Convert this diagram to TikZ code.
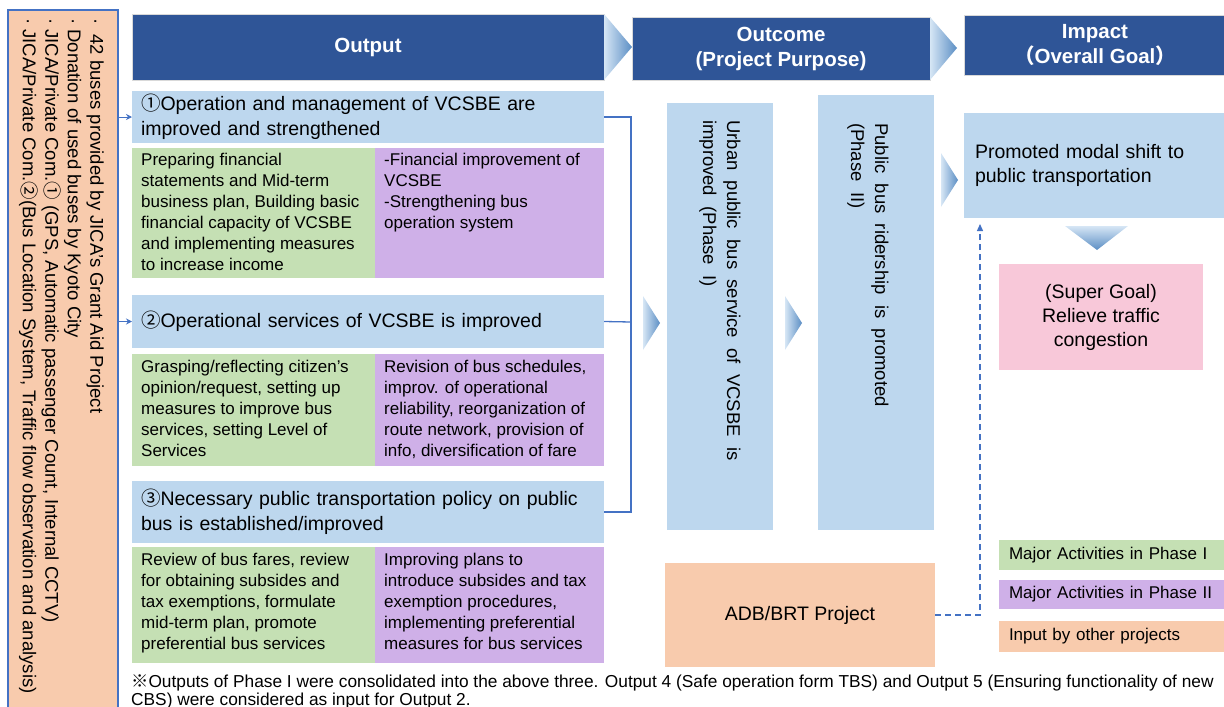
\documentclass[tikz,border=0pt]{standalone}
\usepackage{fontspec}
\setmainfont{Liberation Sans}
\newfontfamily\cjk{Noto Sans CJK SC}
\usetikzlibrary{arrows.meta}
\definecolor{hdr}{HTML}{2F5597}
\definecolor{lb}{HTML}{BDD7EE}
\definecolor{grn}{HTML}{C5E0B4}
\definecolor{pur}{HTML}{CFB0E8}
\definecolor{peach}{HTML}{F8CBAD}
\definecolor{pink}{HTML}{F8C8D9}
\definecolor{lineblue}{HTML}{4472C4}
\definecolor{chevL}{HTML}{D6E6F5}
\definecolor{chevR}{HTML}{5B8EC4}
\begin{document}
\begin{tikzpicture}[x=1pt,y=1pt,
  box/.style={draw=none, inner sep=0pt, outer sep=0pt, anchor=north west},
  hdrbox/.style={box, fill=hdr, draw=black!15, line width=0.6pt, text=white, align=center,
     font=\bfseries\fontsize{20.5}{25}\selectfont},
  outbox/.style={box, fill=lb, inner xsep=9pt, align=left, text width=454pt,
     minimum width=472pt, font=\fontsize{19.5}{25}\selectfont},
  acttxt/.style={inner sep=0pt, anchor=north west, align=left, font=\fontsize{17}{21}\selectfont},
  vtxt/.style={inner sep=0pt, rotate=-90, align=left, font=\fontsize{18.5}{24}\selectfont},
  plain/.style={font=\fontsize{19.5}{24}\selectfont},
  legtxt/.style={box, inner xsep=10pt, align=left, text width=205pt, minimum width=225pt,
     font=\fontsize{17}{19}\selectfont},
  conn/.style={draw=lineblue, line width=1.3pt},
  dconn/.style={draw=lineblue, line width=1.3pt, dash pattern=on 6pt off 4pt}
]
\useasboundingbox (0,0) rectangle (1224,-707);

% input box on the left
\node[box, fill=peach, draw=lineblue, line width=1.2pt, minimum width=110pt, minimum height=712pt] (inp) at (8,-10) {};
\node[inner sep=0pt, rotate=-90, anchor=north west, align=left,
      font=\fontsize{18.5}{22.5}\selectfont] (inptxt) at (104,-18)
  {·~~42 buses provided by JICA's Grant Aid Project\\
   · Donation of used buses by Kyoto City\\
   · JICA/Private Com.{\cjk ①} (GPS, Automatic passenger Count, Internal CCTV)\\
   · JICA/Private Com.{\cjk ②}(Bus Location System, Traffic flow observation and analysis)};

% headers
\node[hdrbox, minimum width=472pt, minimum height=66pt] (hout) at (132,-14) {Output};
\node[hdrbox, minimum width=298pt, minimum height=63pt] (hoc) at (632,-17) {Outcome\\(Project Purpose)};
\node[hdrbox, minimum width=262pt, minimum height=60pt] (him) at (964,-15) {Impact\\{\cjk （}Overall Goal{\cjk ）}};
\shade[left color=chevL, right color=chevR] (hout.north east) -- (632,-47) -- (hout.south east) -- cycle;
\shade[left color=chevL, right color=chevR] (hoc.north east) -- (957,-48) -- (hoc.south east) -- cycle;

% output 1
\node[outbox, minimum height=52pt] (o1) at (132,-91)
  {{\cjk ①}Operation and management of VCSBE are\\improved and strengthened};
\node[box, fill=grn, minimum width=243pt, minimum height=130pt] (g1) at (132,-148) {};
\node[box, fill=pur, minimum width=229pt, minimum height=130pt] (p1) at (375,-148) {};
\node[acttxt] at ([xshift=9pt,yshift=-5pt]g1.north west)
  {Preparing financial\\statements and Mid-term\\business plan, Building basic\\financial capacity of VCSBE\\and implementing measures\\to increase income};
\node[acttxt] at ([xshift=9pt,yshift=-5pt]p1.north west)
  {-Financial improvement of\\VCSBE\\-Strengthening bus\\operation system};

% output 2
\node[outbox, minimum height=53pt] (o2) at (132,-295)
  {{\cjk ②}Operational services of VCSBE is improved};
\node[box, fill=grn, minimum width=243pt, minimum height=112pt] (g2) at (132,-354) {};
\node[box, fill=pur, minimum width=229pt, minimum height=112pt] (p2) at (375,-354) {};
\node[acttxt] at ([xshift=9pt,yshift=-6pt]g2.north west)
  {Grasping/reflecting citizen’s\\opinion/request, setting up\\measures to improve bus\\services, setting Level of\\Services};
\node[acttxt] at ([xshift=9pt,yshift=-6pt]p2.north west)
  {Revision of bus schedules,\\improv. of operational\\reliability, reorganization of\\route network, provision of\\info, diversification of fare};

% output 3
\node[outbox, minimum height=62pt] (o3) at (132,-481)
  {{\cjk ③}Necessary public transportation policy on public\\bus is established/improved};
\node[box, fill=grn, minimum width=243pt, minimum height=116pt] (g3) at (132,-547) {};
\node[box, fill=pur, minimum width=229pt, minimum height=116pt] (p3) at (375,-547) {};
\node[acttxt] at ([xshift=9pt,yshift=-6pt]g3.north west)
  {Review of bus fares, review\\for obtaining subsides and\\tax exemptions, formulate\\mid-term plan, promote\\preferential bus services};
\node[acttxt] at ([xshift=9pt,yshift=-6pt]p3.north west)
  {Improving plans to\\introduce subsides and tax\\exemption procedures,\\implementing preferential\\measures for bus services};

% small arrows from input box
\draw[conn, line width=1pt, -{Stealth[length=6pt,width=6pt]}] (inp.east |- o1.west) -- (o1.west);
\draw[conn, line width=1pt, -{Stealth[length=6pt,width=6pt]}] (inp.east |- o2.west) -- (o2.west);

% joining lines
\coordinate (jn) at (631,-322);
\draw[conn] (o1.east) -| (jn);
\draw[conn] (o3.east) -| (jn);
\draw[conn] (o2.east) -- (jn);

% outcome boxes
\node[box, fill=lb, minimum width=106pt, minimum height=427pt] (oc1) at (667,-103) {};
\node[vtxt, anchor=west] at ([yshift=-17pt]oc1.north)
  {Urban\ \ public\ \ bus\ \ service\ \ of\ \ VCSBE\ \ is\\improved\ \ (Phase\ \ I)};
\node[box, fill=lb, minimum width=116pt, minimum height=435pt] (oc2) at (818,-95) {};
\node[vtxt, anchor=west] at ([xshift=-8pt,yshift=-28pt]oc2.north)
  {Public\ \ bus\ \ ridership\ \ is\ \ promoted\\(Phase\ \ II)};

% middle chevrons
\shade[left color=chevL, right color=chevR] (643,-296) -- (660,-323) -- (643,-350) -- cycle;
\shade[left color=chevL, right color=chevR] (785,-296) -- (802,-323) -- (785,-350) -- cycle;
\shade[left color=chevL, right color=chevR] (941,-153) -- (958,-180) -- (941,-207) -- cycle;

% impact
\node[box, fill=lb, minimum width=260pt, minimum height=105pt, inner xsep=11pt, text width=238pt,
      align=left, plain] (imp) at (964,-113) {Promoted modal shift to\\public transportation};
\shade[top color=chevL, bottom color=chevR] (1065,-226) -- (1128,-226) -- (1097,-250) -- cycle;
\node[box, fill=pink, minimum width=204pt, minimum height=106pt, align=center, plain] (sg) at (999,-264)
  {(Super Goal)\\Relieve traffic\\congestion};

% ADB/BRT
\node[box, fill=peach, minimum width=270pt, minimum height=104pt, plain] (adb) at (665,-563) {ADB/BRT Project};
\coordinate (dtop) at (980,-224);
\draw[dconn, -{Triangle[length=7pt,width=6pt]}] (adb.east) -| (dtop);

% legend
\node[legtxt, fill=grn, minimum height=30pt] (lg1) at (999,-540) {Major Activities in Phase I};
\node[legtxt, fill=pur, minimum height=29pt] (lg2) at (999,-580) {Major Activities in Phase II};
\node[legtxt, fill=peach, minimum height=31pt] (lg3) at (999,-621) {Input by other projects};

% note
\node[inner sep=0pt, anchor=north west, align=left, font=\fontsize{17.3}{18}\selectfont] (note) at (131,-674)
  {{\cjk ※}Outputs of Phase I were consolidated into the above three. Output 4 (Safe operation form TBS) and Output 5 (Ensuring functionality of new\\CBS) were considered as input for Output 2.};
\end{tikzpicture}
\end{document}
